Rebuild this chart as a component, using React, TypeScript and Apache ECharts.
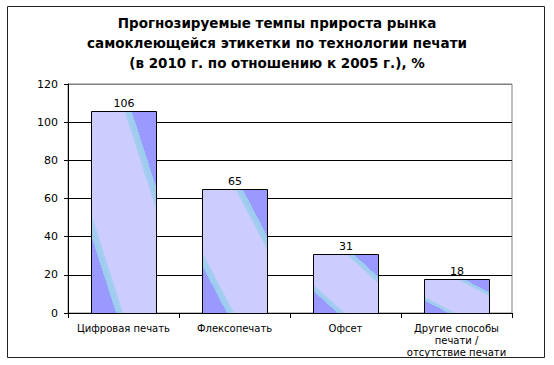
import React, { useEffect, useRef } from 'react';
import * as echarts from 'echarts';

const titleLines = [
  'Прогнозируемые темпы прироста рынка',
  'самоклеющейся этикетки по технологии печати',
  '(в 2010 г. по отношению к 2005 г.), %',
];
const categories = [
  'Цифровая печать',
  'Флексопечать',
  'Офсет',
  'Другие способы\nпечати /\nотсутствие печати',
];
const values = [106, 65, 31, 18];
const yMin = 0;
const yMax = 120;
const yStep = 20;

const FONT = '"DejaVu Sans", Verdana, sans-serif';

export default function App() {
  const ref = useRef<HTMLDivElement>(null);
  useEffect(() => {
    document.body.style.margin = '0';
    const chart = echarts.init(ref.current!, null, { renderer: 'svg' });
    const stops = [
      { offset: 0, color: '#9999ff' },
      { offset: 0.19, color: '#9999ff' },
      { offset: 0.19, color: '#99ccee' },
      { offset: 0.24, color: '#a6cdf0' },
      { offset: 0.25, color: '#ccccff' },
      { offset: 0.75, color: '#ccccff' },
      { offset: 0.76, color: '#a6cdf0' },
      { offset: 0.81, color: '#99ccee' },
      { offset: 0.81, color: '#9999ff' },
      { offset: 1, color: '#9999ff' },
    ];
    chart.setOption({
      animation: false,
      backgroundColor: '#fff',
      title: {
        text: titleLines.join('\n'),
        left: 'center',
        top: 8,
        textStyle: {
          fontFamily: FONT,
          fontSize: 13.5,
          fontWeight: 'bold',
          color: '#000',
          lineHeight: 20,
        },
      },
      graphic: [
        {
          type: 'rect',
          shape: { x: 7.5, y: 6.5, width: 537, height: 351 },
          style: { fill: 'none', stroke: '#222', lineWidth: 1 },
          silent: true,
        },
      ],
      grid: {
        left: 68,
        right: 42,
        top: 84,
        bottom: 52,
        show: true,
        borderColor: '#808080',
        borderWidth: 1,
        backgroundColor: 'transparent',
      },
      xAxis: {
        type: 'category',
        data: categories,
        axisLine: { lineStyle: { color: '#000', width: 1 } },
        axisTick: { show: true, length: 5, lineStyle: { color: '#000' } },
        axisLabel: {
          interval: 0,
          margin: 9,
          fontFamily: FONT,
          fontSize: 10,
          lineHeight: 12,
          color: '#000',
        },
      },
      yAxis: {
        type: 'value',
        min: yMin,
        max: yMax,
        interval: yStep,
        axisLine: { show: true, lineStyle: { color: '#000', width: 1 } },
        axisTick: { show: true, length: 4, lineStyle: { color: '#000' } },
        axisLabel: {
          margin: 10,
          fontFamily: FONT,
          fontSize: 11,
          color: '#000',
        },
        splitLine: {
          show: true,
          lineStyle: {
            color: ['#000', '#000', '#000', '#000', '#000', '#000', '#808080'],
            width: 1,
          },
        },
      },
      series: [
        {
          type: 'custom',
          data: values.map((v, i) => [i, v]),
          encode: { x: 0, y: 1 },
          renderItem: (params: any, api: any) => {
            const idx = api.value(0);
            const v = api.value(1);
            const top = api.coord([idx, v]);
            const base = api.coord([idx, 0]);
            const bw = Math.round(api.size([1, 0])[0] * 0.585);
            const x0 = Math.round(top[0] - bw / 2) + 0.5;
            const y0 = Math.round(top[1]) + 0.5;
            const y1 = Math.round(base[1]) + 0.5;
            const w = bw;
            const h = y1 - y0;
            const L = Math.sqrt(w * w + h * h);
            const d = (w * h) / L;
            const nx = h / L;
            const ny = -w / L;
            const cx = x0 + w / 2;
            const cy = y0 + h / 2;
            const fill = new echarts.graphic.LinearGradient(
              cx + nx * d,
              cy + ny * d,
              cx - nx * d,
              cy - ny * d,
              stops,
              true
            );
            return {
              type: 'group',
              children: [
                {
                  type: 'rect',
                  shape: { x: x0, y: y0, width: w, height: h },
                  style: { fill, stroke: '#000', lineWidth: 1 },
                },
                {
                  type: 'text',
                  style: {
                    text: String(v),
                    x: cx,
                    y: y0 - 3,
                    textAlign: 'center',
                    textVerticalAlign: 'bottom',
                    fontFamily: FONT,
                    fontSize: 11,
                    fill: '#000',
                  },
                },
              ],
            };
          },
        },
      ],
    });
    return () => chart.dispose();
  }, []);
  return <div ref={ref} style={{ width: 554, height: 365 }} />;
}
